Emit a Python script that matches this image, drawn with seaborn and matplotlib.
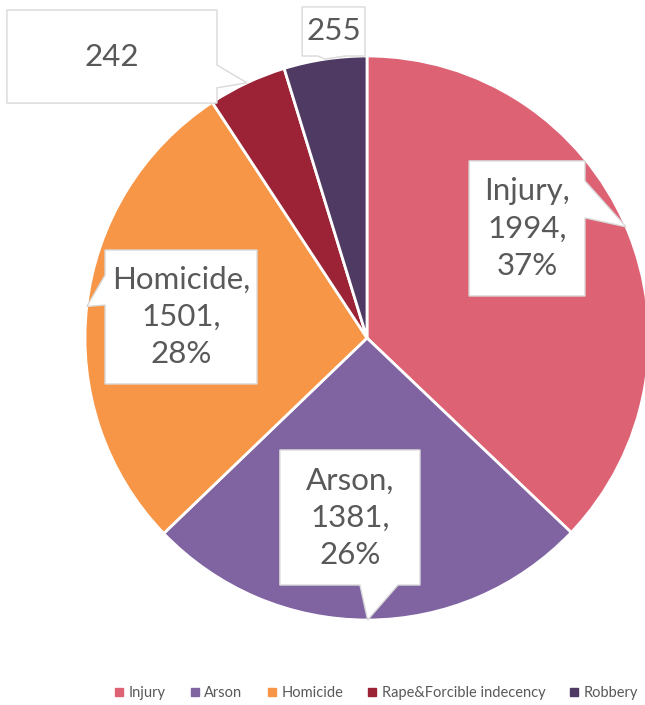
import numpy as np
import matplotlib.pyplot as plt
import seaborn as sns
from matplotlib.patches import Polygon
from matplotlib.lines import Line2D

categories = ['Injury', 'Arson', 'Homicide', 'Rape&Forcible indecency', 'Robbery']
counts = [1994, 1381, 1501, 242, 255]
colors = ['#DD6274', '#8064A2', '#F79646', '#9B2335', '#4F3A63']

# callout boxes: (x0, y0, x1, y1), side of pointer, pointer base (two positions on that side)
callouts = [
    ((0.362, 0.149, 0.773, 0.628), 'right', (0.426, 0.557)),
    ((-0.309, -0.876, 0.188, -0.397), 'bottom', (-0.025, 0.110)),
    ((-0.929, -0.163, -0.390, 0.312), 'left', (0.117, 0.223)),
    ((-1.277, 0.833, -0.532, 1.163), 'right', (0.887, 0.968)),
    ((-0.230, 1.0, -0.007, 1.174), 'bottom', (-0.174, -0.078)),
]
show_name = [True, True, True, False, False]


def callout_poly(box, side, base, tip):
    x0, y0, x1, y1 = box
    a, b = base
    if side == 'bottom':
        pts = [(x0, y0), (a, y0), tip, (b, y0), (x1, y0), (x1, y1), (x0, y1)]
    elif side == 'right':
        pts = [(x0, y0), (x1, y0), (x1, a), tip, (x1, b), (x1, y1), (x0, y1)]
    else:
        pts = [(x0, y0), (x1, y0), (x1, y1), (x0, y1), (x0, b), tip, (x0, a)]
    return pts


def main():
    sns.set_theme(style='white')
    plt.rcParams['font.family'] = ['Lato', 'DejaVu Sans']

    fig = plt.figure(figsize=(6.45, 7.05), dpi=100)
    ax = fig.add_axes([85 / 645, 85 / 705, 564 / 645, 564 / 705])

    wedges, _ = ax.pie(counts, colors=colors, startangle=90, counterclock=False,
                       wedgeprops=dict(edgecolor='white', linewidth=2))
    ax.set_xlim(-1, 1)
    ax.set_ylim(-1, 1)
    ax.set_aspect('equal')
    ax.axis('off')

    total = sum(counts)
    for w, n, name, show, (box, side, base) in zip(wedges, counts, categories, show_name, callouts):
        mid = np.deg2rad((w.theta1 + w.theta2) / 2)
        tip = (np.cos(mid), np.sin(mid))
        poly = Polygon(callout_poly(box, side, base, tip), closed=True, facecolor='white',
                       edgecolor='#D9D9D9', linewidth=1, clip_on=False, zorder=3)
        ax.add_patch(poly)
        if show:
            label = f'{name},\n{n},\n{n / total:.0%}'
        else:
            label = f'{n}'
        cx = (box[0] + box[2]) / 2
        cy = (box[1] + box[3]) / 2
        ax.text(cx, cy, label, ha='center', va='center', fontsize=22.5, color='#595959',
                linespacing=1.4, zorder=4, clip_on=False)

    handles = [Line2D([], [], marker='s', linestyle='', markersize=6,
                      markerfacecolor=c, markeredgecolor=c) for c in colors]
    fig.legend(handles, categories, loc='center right', ncol=5, frameon=False,
               bbox_to_anchor=(1.01, 1 - 693 / 705), fontsize=10.5, labelcolor='#595959',
               handletextpad=0.15, columnspacing=1.5, handlelength=1.0)

    fig.savefig('out.png', dpi=100)


if __name__ == '__main__':
    main()
